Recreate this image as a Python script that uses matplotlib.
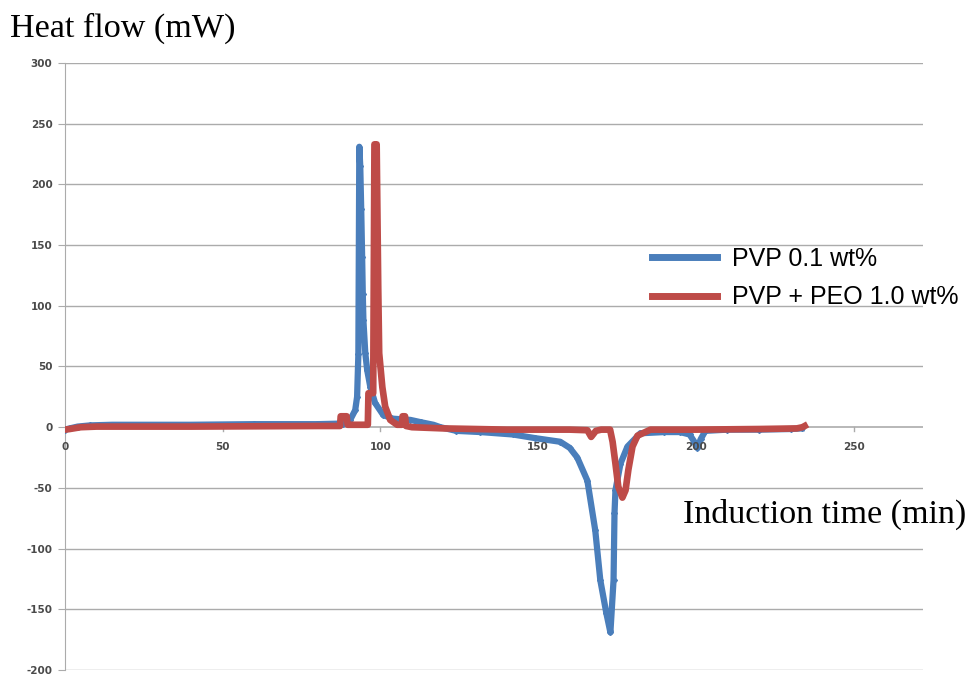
import matplotlib
matplotlib.use("Agg")
import matplotlib.pyplot as plt
from matplotlib.lines import Line2D

# PVP 0.1 wt% (blue)
pvp_time = [0, 1.5, 4, 8, 15, 40, 60, 80, 88, 90.4, 92.0, 92.6, 93.0, 93.3,
            93.6, 93.9, 94.2, 94.4, 94.6, 95.2, 95.8, 96.8, 98.3, 100.9, 104,
            109.5, 113, 116.8, 119, 124, 131.7, 142, 149, 157, 160, 162.4,
            165.6, 168.1, 169.7, 171.6, 172.9, 173.9, 174.2, 174.5, 176.1,
            178.3, 182.4, 190, 195, 198, 199.5, 200.5, 201.5, 203, 210, 220,
            230, 233.5]
pvp_heat = [-2, -1, 0.5, 1.5, 2, 2, 2.5, 2.5, 3, 6, 14, 25, 60, 231,
            215, 180, 140, 110, 88, 61, 47, 33, 20, 10, 7,
            6, 4, 2, 0, -3, -4, -6, -9, -12, -17, -25,
            -44, -85, -126, -153, -169, -126, -71, -52, -30,
            -16, -5, -4, -4, -6, -12, -17, -10, -3, -2, -2,
            -1.5, -1]

# PVP + PEO 1.0 wt% (red)
peo_time = [0, 1.5, 5, 10, 40, 80, 87.2, 87.4, 89.3, 89.6, 92, 96.0, 96.2,
            97.7, 98.1, 98.8, 99.3, 99.6, 100.6, 101.5, 103.1, 105.3, 106.8,
            107.0, 107.8, 108.1, 110, 120, 130, 140, 150, 160, 165.6, 166.8,
            168.3, 170, 172.8, 173.6, 174.5, 175.4, 176.7, 177.7, 178.6,
            179.9, 181.5, 185.6, 200, 220, 232, 233.8, 234.5]
peo_heat = [-2, -1.5, 0, 0.5, 0.5, 1, 1, 9, 9, 2, 2, 2, 28,
            28, 233, 233, 115, 61, 33, 17, 6, 2, 2,
            9, 9, 1, 0, -1, -1.5, -2, -2, -2, -2.5, -8,
            -3, -2, -2, -12, -30, -49, -58, -52, -35,
            -16, -7, -2, -2, -1.5, -1, 0, 1]

y_ticks = [300, 250, 200, 150, 100, 50, 0, -50, -100, -150, -200]
x_ticks = [0, 50, 100, 150, 200, 250]

blue = "#4A7EBB"
red = "#BE4B48"
grid_col = "#ABABAB"
tick_font = {"family": "DejaVu Sans", "weight": "bold", "size": 7.5}

fig = plt.figure(figsize=(9.72, 6.76), dpi=100)
ax = fig.add_axes([65 / 972, 1 - 670 / 676, (923 - 65) / 972, (670 - 63) / 676])

for yv in y_ticks:
    if yv != 0:
        ax.axhline(yv, color=grid_col, lw=1.0, zorder=0)

ax.plot(pvp_time, pvp_heat, color=blue, lw=4.5, marker="D", ms=3,
        mec=blue, mfc=blue, zorder=3, solid_joinstyle="round")
ax.plot(peo_time, peo_heat, color=red, lw=4.8, zorder=4,
        solid_joinstyle="round")

ax.set_xlim(0, 272)
ax.set_ylim(-200, 300)

for s in ["top", "right", "bottom"]:
    ax.spines[s].set_visible(False)
ax.spines["left"].set_color(grid_col)
ax.spines["left"].set_position(("data", 0))
ax.axhline(0, color=grid_col, lw=1.2, zorder=1)

ax.set_yticks(y_ticks)
ax.set_yticklabels([str(v) for v in y_ticks], fontdict=tick_font)
ax.tick_params(axis="y", length=5, color=grid_col, labelcolor="#4A4A4A",
               pad=4)

ax.set_xticks([])
for xv in x_ticks:
    ax.text(xv, -12, str(xv), ha="center", va="top", color="#4A4A4A",
            fontdict=tick_font)
    ax.plot([xv, xv], [0, -3], color=grid_col, lw=1, zorder=1)

fig.text(10 / 972, 1 - 37 / 676, "Heat flow (mW)", family="Liberation Serif",
         fontsize=24.6, va="baseline", ha="left")
fig.text(683 / 972, 1 - 523 / 676, "Induction time (min)",
         family="Liberation Serif", fontsize=24.5, va="baseline", ha="left")

handles = [Line2D([], [], color=blue, lw=5), Line2D([], [], color=red, lw=5)]
fig.legend(handles, ["PVP 0.1 wt%", "PVP + PEO 1.0 wt%"],
           loc="center left", bbox_to_anchor=(634 / 972, 1 - 278 / 676),
           frameon=False, prop={"family": "Liberation Sans", "size": 18},
           handlelength=2.6, handletextpad=0.6, labelspacing=0.58,
           borderpad=0.2)

fig.savefig("out.png", dpi=100)
